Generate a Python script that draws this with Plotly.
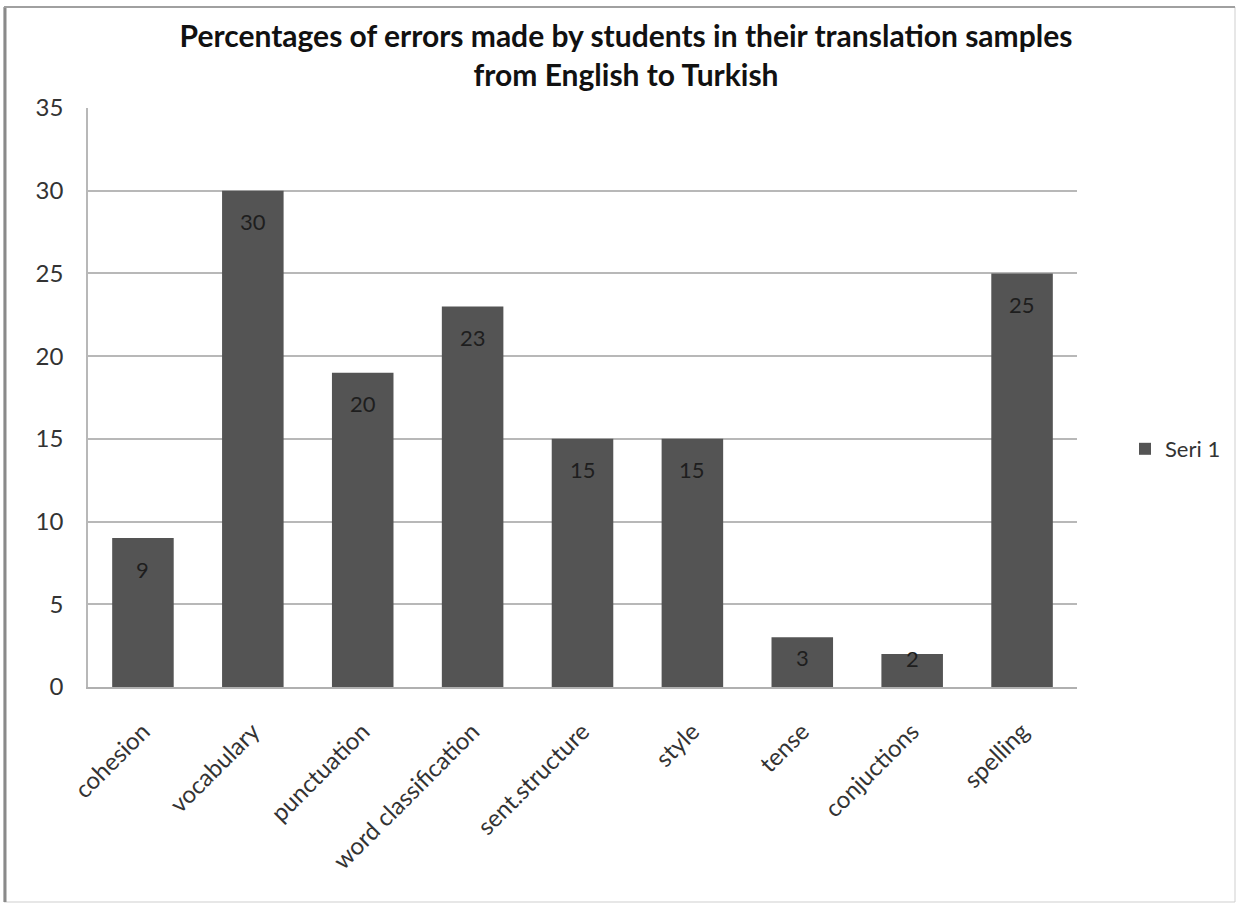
import plotly.graph_objects as go

categories = ["cohesion", "vocabulary", "punctuation", "word classification",
              "sent.structure", "style", "tense", "conjuctions", "spelling"]
values = [9, 30, 19, 23, 15, 15, 3, 2, 25]
value_labels = ["9", "30", "20", "23", "15", "15", "3", "2", "25"]
y_ticks = [0, 5, 10, 15, 20, 25, 30, 35]
series_name = "Seri 1"
title_text = "Percentages of errors made by students in their translation samples<br>from English to Turkish"

W, H = 1239, 906
L, R, T, B = 88, 162, 108, 219
pw, ph = W - L - R, H - T - B
Y_MAX = 35
PX_PER_UNIT = ph / Y_MAX

def px(x):
    return (x - L) / pw

def py(y):
    return (H - B - y) / ph

FONT = "Lato, Open Sans, sans-serif"

fig = go.Figure()
fig.add_trace(go.Bar(
    x=categories, y=values, name=series_name,
    marker=dict(color="#545454", line=dict(width=0)),
    showlegend=True,
))

for c, v, t in zip(categories, values, value_labels):
    bar_h = v * PX_PER_UNIT
    shift = min(31, max(5, bar_h - 29))
    fig.add_annotation(x=c, y=v, text=t, showarrow=False, yanchor="middle",
                       yshift=-shift, font=dict(family=FONT, size=22, color="#1e1e1e"))

fig.update_layout(
    width=W, height=H,
    margin=dict(l=L, r=R, t=T, b=B),
    paper_bgcolor="white", plot_bgcolor="white",
    bargap=0.44,
    title=dict(text=f"<b>{title_text}</b>", x=626 / W, xanchor="center",
               y=1 - 47 / H, yanchor="middle",
               font=dict(family=FONT, size=30, color="#111111")),
    font=dict(family=FONT, color="#333333"),
    xaxis=dict(tickangle=-45, tickfont=dict(size=24, color="#333333"),
               showline=True, linecolor="#b0b0b0", linewidth=2,
               ticks="", showgrid=False, ticklabelstandoff=19),
    yaxis=dict(range=[0, Y_MAX], tickvals=y_ticks, tickfont=dict(size=24, color="#333333"),
               showgrid=True, gridcolor="#b8b8b8", gridwidth=1.5,
               showline=True, linecolor="#b8b8b8", linewidth=1.5,
               zeroline=False, ticks="", ticklabelstandoff=18),
    legend=dict(x=px(1125), y=py(449), xanchor="left", yanchor="middle",
                font=dict(size=22, color="#333333"), bgcolor="rgba(0,0,0,0)",
                itemwidth=30),
    shapes=[
        dict(type="rect", xref="paper", yref="paper",
             x0=px(4), x1=px(1235), y0=py(902), y1=py(7),
             line=dict(color="#cfcfcf", width=1)),
        dict(type="line", xref="paper", yref="paper",
             x0=px(5), x1=px(5), y0=py(902), y1=py(7),
             line=dict(color="#8a8a8a", width=3)),
        dict(type="line", xref="paper", yref="paper",
             x0=px(4), x1=px(1235), y0=py(7), y1=py(7),
             line=dict(color="#a0a0a0", width=2)),
    ],
)

fig.write_html("out.html")
